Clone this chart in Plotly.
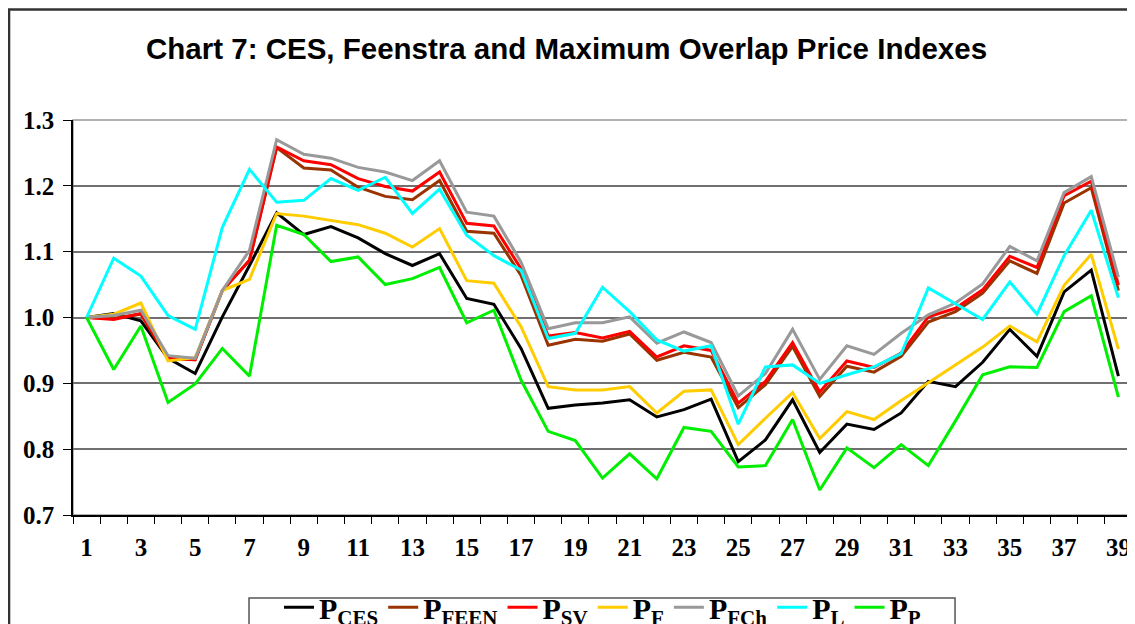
import plotly.graph_objects as go

# period index 1..39
periods = list(range(1, 40))

p_ces = [1.000, 1.006, 0.995, 0.938, 0.915, 1.001, 1.079, 1.159, 1.126, 1.138,
         1.121, 1.097, 1.079, 1.097, 1.029, 1.020, 0.953, 0.862, 0.867, 0.870,
         0.875, 0.849, 0.860, 0.876, 0.781, 0.814, 0.875, 0.795, 0.838, 0.830,
         0.855, 0.903, 0.895, 0.932, 0.982, 0.941, 1.039, 1.072, 0.911]

p_feen = [1.000, 0.999, 1.005, 0.937, 0.936, 1.041, 1.087, 1.258, 1.227, 1.224,
          1.198, 1.184, 1.179, 1.208, 1.131, 1.128, 1.064, 0.958, 0.967, 0.964,
          0.975, 0.935, 0.947, 0.940, 0.863, 0.898, 0.956, 0.880, 0.926, 0.917,
          0.941, 0.993, 1.009, 1.037, 1.086, 1.067, 1.174, 1.197, 1.041]

p_sv = [1.000, 0.997, 1.006, 0.938, 0.936, 1.041, 1.087, 1.259, 1.238, 1.232,
        1.211, 1.199, 1.192, 1.221, 1.143, 1.139, 1.074, 0.972, 0.977, 0.969,
        0.979, 0.940, 0.957, 0.950, 0.870, 0.903, 0.962, 0.887, 0.934, 0.924,
        0.946, 1.001, 1.014, 1.042, 1.093, 1.076, 1.185, 1.207, 1.049]

p_f = [1.000, 1.005, 1.022, 0.934, 0.939, 1.041, 1.058, 1.158, 1.154, 1.147,
       1.141, 1.128, 1.107, 1.135, 1.056, 1.052, 0.986, 0.895, 0.890, 0.890,
       0.895, 0.855, 0.888, 0.890, 0.807, 0.847, 0.886, 0.816, 0.857, 0.845,
       0.874, 0.901, 0.928, 0.955, 0.987, 0.963, 1.049, 1.096, 0.952]

p_fch = [1.000, 1.003, 1.011, 0.942, 0.938, 1.041, 1.102, 1.270, 1.248, 1.242,
         1.228, 1.221, 1.208, 1.238, 1.160, 1.154, 1.084, 0.983, 0.992, 0.992,
         1.001, 0.961, 0.978, 0.962, 0.881, 0.915, 0.982, 0.906, 0.957, 0.944,
         0.976, 1.004, 1.022, 1.051, 1.108, 1.086, 1.190, 1.214, 1.061]

p_l = [1.000, 1.090, 1.063, 1.003, 0.982, 1.137, 1.225, 1.175, 1.178, 1.211,
       1.193, 1.213, 1.158, 1.195, 1.125, 1.094, 1.072, 0.968, 0.976, 1.046,
       1.009, 0.966, 0.949, 0.957, 0.838, 0.925, 0.928, 0.900, 0.913, 0.925,
       0.945, 1.045, 1.021, 0.997, 1.054, 1.005, 1.094, 1.163, 1.030]

p_p = [1.000, 0.921, 0.987, 0.871, 0.899, 0.953, 0.911, 1.140, 1.126, 1.085,
       1.092, 1.050, 1.059, 1.076, 0.992, 1.011, 0.905, 0.827, 0.813, 0.756,
       0.793, 0.755, 0.833, 0.827, 0.773, 0.775, 0.845, 0.738, 0.802, 0.772,
       0.807, 0.775, 0.843, 0.913, 0.925, 0.924, 1.009, 1.033, 0.879]

x_labels = [str(i) for i in range(1, 40, 2)]

series = [
    ('P<sub>CES</sub>', p_ces, '#000000'),
    ('P<sub>FEEN</sub>', p_feen, '#993300'),
    ('P<sub>SV</sub>', p_sv, '#FF0000'),
    ('P<sub>F</sub>', p_f, '#FFCC00'),
    ('P<sub>FCh</sub>', p_fch, '#999999'),
    ('P<sub>L</sub>', p_l, '#00FFFF'),
    ('P<sub>P</sub>', p_p, '#00EE00'),
]

serif_bold = dict(family='Liberation Serif', size=25, color='black', weight='bold')

fig = go.Figure()
for name, vals, col in series:
    fig.add_trace(go.Scatter(x=periods, y=vals, name=name, mode='lines',
                             line=dict(color=col, width=3)))

# page body has an 8px margin, so the figure is 8px smaller than the window
fig.update_layout(
    width=1127, height=616,
    margin=dict(l=65, r=3, t=112, b=109, autoexpand=False),
    paper_bgcolor='white', plot_bgcolor='white',
    title=dict(text='Chart 7: CES, Feenstra and Maximum Overlap Price Indexes',
               x=0.4956, xanchor='center', y=0.9334, yanchor='middle',
               font=dict(family='Liberation Sans', size=29.5, color='black', weight='bold')),
    showlegend=True,
    legend=dict(orientation='h', x=0.5, xanchor='center', y=-0.168, yanchor='top',
                font=dict(family='Liberation Serif', size=30, color='black', weight='bold'),
                borderwidth=0, bgcolor='rgba(0,0,0,0)',
                itemwidth=30, tracegroupgap=0),
)

fig.update_xaxes(
    range=[0.5, 39.5], tickmode='array',
    tickvals=list(range(1, 40, 2)), ticktext=x_labels,
    ticks='', showgrid=False, zeroline=False, automargin=False,
    showline=True, linecolor='black', linewidth=1.5,
    tickfont=serif_bold, ticklabelstandoff=9,
    minor=dict(tick0=0.5, dtick=1, ticks='outside', ticklen=7,
               tickcolor='black', tickwidth=1.3, showgrid=False),
)

fig.update_yaxes(
    range=[0.7, 1.3], dtick=0.1, tick0=0.7, tickformat='.1f',
    ticks='outside', ticklen=8, tickcolor='black', tickwidth=1.3,
    showgrid=True, gridcolor='#707070', gridwidth=1.5, zeroline=False,
    showline=True, linecolor='black', linewidth=1.5, automargin=False,
    tickfont=serif_bold, ticklabelstandoff=4,
)

# plot area border (gray), legend box and outer chart border
fig.add_shape(type='rect', xref='paper', yref='paper', x0=0, x1=1, y0=0, y1=1,
              line=dict(color='#999999', width=1.5), layer='below')
fig.add_shape(type='rect', xref='paper', yref='paper',
              x0=0.1662, x1=0.8329, y0=-0.36, y1=-0.2101,
              line=dict(color='#555555', width=1.5), fillcolor='white')
fig.add_shape(type='rect', xref='paper', yref='paper',
              x0=-0.0604, x1=1.05, y0=-0.5, y1=1.2797,
              line=dict(color='#333333', width=2.5))

fig.write_html('out.html')
